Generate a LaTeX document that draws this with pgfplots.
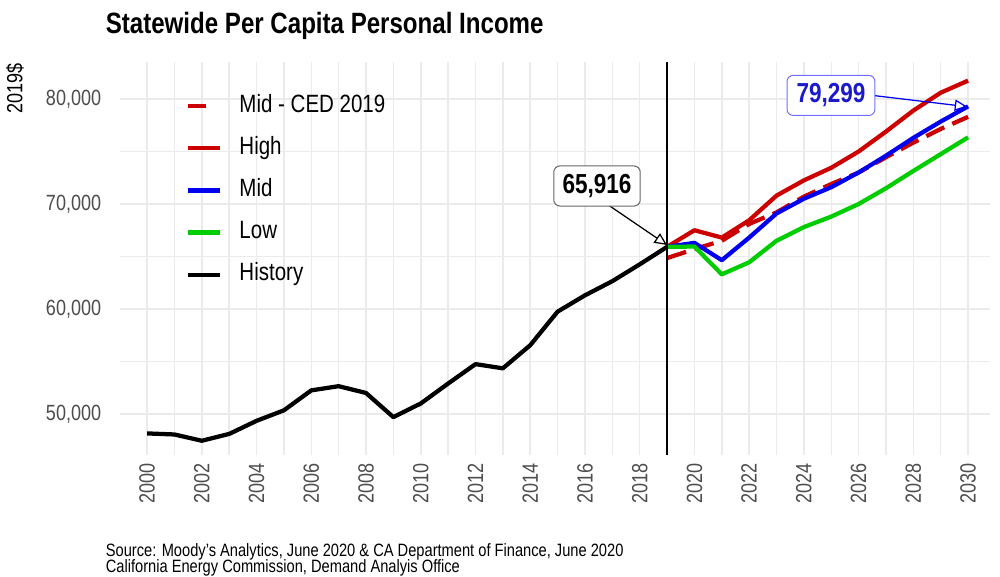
\documentclass[border=0pt]{standalone}
\usepackage{fontspec}
\setmainfont{Liberation Sans}[FakeStretch=0.82]
\usepackage{pgfplots}
\pgfplotsset{compat=1.18}
\usetikzlibrary{arrows.meta}

\definecolor{red3}{HTML}{CD0000}
\definecolor{blue2}{HTML}{0000EE}
\definecolor{green3}{HTML}{00CD00}
\definecolor{gridgray}{HTML}{EBEBEB}
\definecolor{ticktext}{HTML}{4D4D4D}
\definecolor{boxblue}{HTML}{7070FF}
\definecolor{textblue}{HTML}{1A1ACC}

\pgfplotsset{
    shortdash legend/.style={legend image code/.code={\draw[##1, solid] (0pt,0pt) -- (7.2pt,0pt);}},
}

\begin{document}
\begin{tikzpicture}
\useasboundingbox (-48pt,-48.8pt) rectangle (352pt,182pt);
\begin{axis}[
    scale only axis,
    width=348pt, height=157.2pt,
    xmin=1999.01, xmax=2030.8,
    ymin=46095, ymax=83524,
    axis line style={draw=none},
    major tick length=0pt, minor tick length=0pt,
    xtick={2000,2002,...,2030},
    minor xtick={2001,2003,...,2029},
    ytick={50000,60000,70000,80000},
    minor ytick={55000,65000,75000},
    grid=both,
    major grid style={gridgray, line width=0.6pt},
    minor grid style={gridgray, line width=0.6pt},
    scaled y ticks=false,
    /pgf/number format/assume math mode=true,
    y tick label style={xshift=-4pt, font=\fontsize{8.8}{10}\selectfont, text=ticktext,
        /pgf/number format/.cd, fixed, 1000 sep={,}},
    x tick label style={font=\fontsize{8.8}{10}\selectfont, text=ticktext,
        rotate=90, anchor=east, /pgf/number format/.cd, 1000 sep={}},
    legend cell align=left,
    legend style={at={(0.075,0.927)}, anchor=north west, draw=none, fill=none,
        font=\fontsize{10}{12}\selectfont, inner sep=0pt, row sep=4.85pt,
        nodes={text height=7.5pt, text depth=2.5pt, inner sep=1pt},
        /tikz/every odd column/.append style={column sep=6pt}},
    legend image code/.code={\draw[#1] (0pt,0pt) -- (12.8pt,0pt);},
    every axis plot/.append style={line width=1.7pt, line join=round},
]
% Mid - CED 2019
\addplot[red3, dash pattern=on 8pt off 3.5pt, shortdash legend] coordinates {
    (2019,64850) (2020,65700) (2021,66500) (2022,68100) (2023,69200) (2024,70700)
    (2025,71900) (2026,73000) (2027,74450) (2028,75850) (2029,77150) (2030,78300) };
\addlegendentry{Mid - CED 2019}
% High
\addplot[red3] coordinates {
    (2019,65916) (2020,67500) (2021,66800) (2022,68450) (2023,70800) (2024,72250)
    (2025,73450) (2026,75000) (2027,76900) (2028,78900) (2029,80600) (2030,81750) };
\addlegendentry{High}
% Mid
\addplot[blue2] coordinates {
    (2019,65916) (2020,66300) (2021,64650) (2022,66800) (2023,69100) (2024,70500)
    (2025,71600) (2026,73000) (2027,74600) (2028,76300) (2029,77850) (2030,79299) };
\addlegendentry{Mid}
% Low
\addplot[green3] coordinates {
    (2019,65916) (2020,65950) (2021,63300) (2022,64450) (2023,66500) (2024,67800)
    (2025,68800) (2026,70000) (2027,71500) (2028,73150) (2029,74750) (2030,76350) };
\addlegendentry{Low}
% History
\addplot[black] coordinates {
    (2000,48150) (2001,48050) (2002,47450) (2003,48100) (2004,49350) (2005,50350)
    (2006,52250) (2007,52650) (2008,52000) (2009,49700) (2010,51000) (2011,52900)
    (2012,54750) (2013,54350) (2014,56550) (2015,59750) (2016,61300) (2017,62650)
    (2018,64250) (2019,65916) };
\addlegendentry{History}

\draw[black, line width=0.7pt] (axis cs:2019,46095) -- (axis cs:2019,83524);

\draw[black, line width=0.5pt, -{Triangle[open, length=5pt, width=4.5pt]}]
    (axis cs:2016.73,70124) -- (axis cs:2019,66095);
\node[draw=gray!80!black, fill=white, rounded corners=2.5pt, inner xsep=3.5pt,
    minimum height=14.8pt, font=\bfseries\fontsize{11}{12}\selectfont]
    at (axis cs:2016.44,71714) {65,916};

\draw[blue2, line width=0.5pt, -{Triangle[open, length=5pt, width=4.5pt]}]
    (axis cs:2026.6,80314) -- (axis cs:2029.97,79267);
\node[draw=boxblue, fill=white, rounded corners=2.5pt, inner xsep=3.8pt,
    minimum height=14.8pt, text=textblue, font=\bfseries\fontsize{11}{12}\selectfont]
    at (axis cs:2024.99,80340) {79,299};
\end{axis}

\node[anchor=base west, font=\bfseries\fontsize{11.75}{14}\selectfont] at (-9.2pt,168.4pt)
    {Statewide Per Capita Personal Income};
\node[rotate=90, anchor=east, font=\fontsize{8.8}{10}\selectfont] at (-42pt,160pt) {2019\$};
\node[anchor=base west, font=\fontsize{7.15}{8}\selectfont] at (-9.2pt,-40.4pt)
    {Source: Moody's Analytics, June 2020 \& CA Department of Finance, June 2020};
\node[anchor=base west, font=\fontsize{7.15}{8}\selectfont] at (-9.2pt,-47pt)
    {California Energy Commission, Demand Analyis Office};
\end{tikzpicture}
\end{document}
